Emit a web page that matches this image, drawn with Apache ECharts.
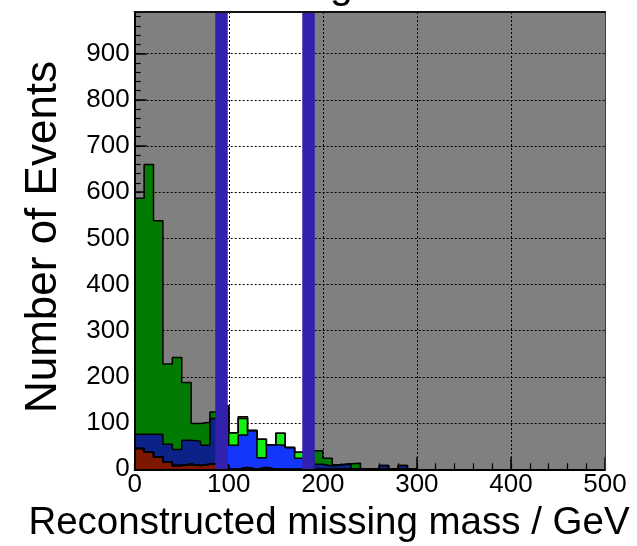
<!DOCTYPE html>
<html>
<head>
<meta charset="utf-8">
<script src="https://cdn.jsdelivr.net/npm/echarts@6/dist/echarts.min.js"></script>
<style>
  html, body { margin: 0; padding: 0; background: #fff; }
  #chart { width: 637px; height: 546px; }
</style>
</head>
<body>
<div id="chart"></div>
<script>
// Histogram binning: 10 GeV bins starting at 0
const binWidth = 10;
const xRange = [0, 500];
const yRange = [0, 990];
const xTicks = [0, 100, 200, 300, 400, 500];
const yTicks = [0, 100, 200, 300, 400, 500, 600, 700, 800, 900];

// Mass window (GeV) marked by the two vertical bars
const windowEdges = [91.6, 184.4];
const windowFirstBin = 9;

// Bin contents, bins 0..29 (0-300 GeV); empty above
const redComponent   = [45, 37, 27, 16, 8, 11, 8, 11, 11, 9, 0, 4, 0, 4, 0, 0, 0, 0, 0, 0, 0, 0, 0, 0, 0, 0, 0, 0, 0, 0];
const darkBlueOutside  = [31, 39, 49, 38, 35, 52, 53, 41, 99, 0, 0, 0, 0, 0, 0, 0, 0, 0, 0, 11, 7, 10, 12, 0, 0, 0, 8, 0, 8, 0];
const darkGreenOutside = [511, 584, 462, 174, 199, 125, 38, 50, 14, 0, 0, 0, 0, 0, 0, 0, 0, 0, 0, 29, 17, 0, 0, 13, 0, 0, 0, 0, 0, 0];

// Bin contents inside the window, bins 9..18 (90-190 GeV)
const blueInWindow  = [128, 52, 70, 84, 21, 53, 52, 47, 24, 20];
const greenInWindow = [0, 27, 36, 0, 40, 0, 26, 0, 13, 10];
const oliveInWindow = [0, 0, 4, 0, 0, 0, 0, 0, 0, 0];

const FONT = "'Liberation Sans', Arial, Helvetica, sans-serif";
const nBins = redComponent.length;

// expand a window-only array to the full bin range
function inWindow(arr) {
  const out = new Array(nBins).fill(0);
  arr.forEach((v, i) => { out[windowFirstBin + i] = v; });
  return out;
}
// running stack of several layers
function stackOf(...layers) {
  return redComponent.map((_, i) => layers.reduce((s, l) => s + l[i], 0));
}

const wBlue = inWindow(blueInWindow);
const wGreen = inWindow(greenInWindow);
const wOlive = inWindow(oliveInWindow);

const stRed = stackOf(redComponent);
const stDarkBlue = stackOf(redComponent, darkBlueOutside);
const stDarkGreen = stackOf(redComponent, darkBlueOutside, darkGreenOutside);
const stBlueW = stackOf(redComponent, wBlue);
const stGreenW = stackOf(redComponent, wBlue, wGreen);
const stOliveW = stackOf(redComponent, wBlue, wGreen, wOlive);

// filled step histogram with a black outline
function histSeries(name, values, color) {
  const data = values.map((v, i) => [i * binWidth, v]);
  data.push([values.length * binWidth, 0]);
  return {
    name: name,
    type: 'line',
    step: 'end',
    data: data,
    symbol: 'none',
    z: 3,
    silent: true,
    lineStyle: { color: '#000', width: 1.5 },
    areaStyle: { color: color, opacity: 1, origin: 'start' },
    xAxisIndex: 0,
    yAxisIndex: 0
  };
}

const chart = echarts.init(document.getElementById('chart'), null, { renderer: 'canvas' });

const tickLabel = { fontSize: 26, color: '#000', fontFamily: FONT };

chart.setOption({
  animation: false,
  backgroundColor: '#fff',
  grid: {
    left: 134.7, right: 32, top: 12, bottom: 76.7,
    show: true, backgroundColor: '#808080', borderWidth: 0,
    containLabel: false, outerBoundsMode: 'none'
  },
  xAxis: [
    { // main x axis: ticks, labels, grid
      type: 'value', min: xRange[0], max: xRange[1], interval: 100, position: 'bottom', z: 2,
      axisLine: { show: false, onZero: false },
      axisTick: { show: true, inside: true, length: 12, lineStyle: { color: '#000', width: 1.5 } },
      axisLabel: Object.assign({ margin: 3, formatter: v => xTicks.includes(v) ? String(v) : '' }, tickLabel),
      splitLine: { show: true, lineStyle: { color: '#000', width: 1, type: [2, 2] } }
    },
    { // minor x ticks
      type: 'value', min: xRange[0], max: xRange[1], interval: 20, position: 'bottom', z: 2,
      axisLine: { show: false, onZero: false },
      axisTick: { show: true, inside: true, length: 6, lineStyle: { color: '#000', width: 1.2 } },
      axisLabel: { show: false }, splitLine: { show: false }
    },
    { // top frame
      type: 'value', min: xRange[0], max: xRange[1], position: 'top', z: 6,
      axisLine: { show: true, onZero: false, lineStyle: { color: '#111', width: 2 } },
      axisTick: { show: false }, axisLabel: { show: false }, splitLine: { show: false }
    },
    { // bottom axis line
      type: 'value', min: xRange[0], max: xRange[1], position: 'bottom', z: 6,
      axisLine: { show: true, onZero: false, lineStyle: { color: '#000', width: 2 } },
      axisTick: { show: false }, axisLabel: { show: false }, splitLine: { show: false }
    }
  ],
  yAxis: [
    { // main y axis
      type: 'value', min: yRange[0], max: yRange[1], interval: 100, position: 'left', z: 2,
      axisLine: { show: false, onZero: false },
      axisTick: { show: true, inside: true, length: 12, lineStyle: { color: '#000', width: 1.5 } },
      axisLabel: Object.assign({ margin: 5, showMaxLabel: false, formatter: v => yTicks.includes(v) ? String(v) : '' }, tickLabel),
      splitLine: { show: true, lineStyle: { color: '#000', width: 1, type: [2, 2] } }
    },
    { // minor y ticks
      type: 'value', min: yRange[0], max: yRange[1], interval: 20, position: 'left', z: 2,
      axisLine: { show: false, onZero: false },
      axisTick: { show: true, inside: true, length: 6, lineStyle: { color: '#000', width: 1.2 } },
      axisLabel: { show: false }, splitLine: { show: false }
    },
    { // right frame
      type: 'value', min: yRange[0], max: yRange[1], position: 'right', z: 6,
      axisLine: { show: true, onZero: false, lineStyle: { color: '#3a3a3a', width: 1 } },
      axisTick: { show: false }, axisLabel: { show: false }, splitLine: { show: false }
    },
    { // left axis line
      type: 'value', min: yRange[0], max: yRange[1], position: 'left', z: 6,
      axisLine: { show: true, onZero: false, lineStyle: { color: '#000', width: 2 } },
      axisTick: { show: false }, axisLabel: { show: false }, splitLine: { show: false }
    }
  ],
  series: [
    { // white mass-window band under the grid lines
      name: 'window band', type: 'line', data: [], z: 1, silent: true,
      xAxisIndex: 0, yAxisIndex: 0,
      markArea: {
        silent: true,
        itemStyle: { color: '#fff' },
        label: { show: false },
        data: [[{ xAxis: windowEdges[0] }, { xAxis: windowEdges[1] }]]
      }
    },
    histSeries('dark green', stDarkGreen, '#027b02'),
    histSeries('olive (window)', stOliveW, '#7a7a12'),
    histSeries('green (window)', stGreenW, '#14f014'),
    histSeries('dark blue', stDarkBlue, '#0b2389'),
    histSeries('blue (window)', stBlueW, '#1236fb'),
    histSeries('red', stRed, '#7d1700'),
    { // window edge bars
      name: 'window edges', type: 'line', data: [], z: 5, silent: true,
      xAxisIndex: 0, yAxisIndex: 0,
      markLine: {
        silent: true,
        symbol: ['none', 'none'],
        label: { show: false },
        lineStyle: { color: '#3221ad', width: 12.5, type: 'solid', opacity: 1 },
        data: windowEdges.map(x => ({ xAxis: x }))
      }
    }
  ],
  graphic: [
    { // title, mostly above the canvas edge
      type: 'text', left: 330, top: -34, z: 10,
      style: { text: 'g', font: '41px ' + FONT, fill: '#000' }
    },
    {
      type: 'text', x: 44, y: 237, rotation: Math.PI / 2, z: 10,
      style: { text: 'Number of Events', font: '44px ' + FONT, fill: '#000', align: 'center', verticalAlign: 'middle' }
    },
    {
      type: 'text', x: 329, y: 523, z: 10,
      style: { text: 'Reconstructed missing mass / GeV', font: '38.5px ' + FONT, fill: '#000', align: 'center', verticalAlign: 'middle' }
    }
  ]
});
</script>
</body>
</html>
